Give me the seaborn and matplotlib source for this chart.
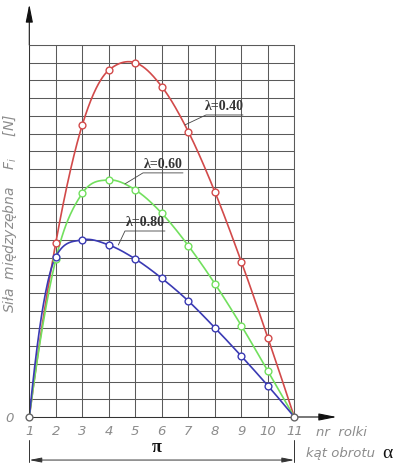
import numpy as np
import pandas as pd
import matplotlib
matplotlib.use("Agg")
import matplotlib.pyplot as plt
import seaborn as sns

# ---- data ----
rolls = [1, 2, 3, 4, 5, 6, 7, 8, 9, 10, 11]
f_040 = [0, 9.84, 16.49, 19.58, 20.0, 18.65, 16.11, 12.72, 8.77, 4.48, 0]
f_060 = [0, 8.90, 12.63, 13.38, 12.82, 11.50, 9.67, 7.53, 5.16, 2.60, 0]
f_080 = [0, 9.05, 10.00, 9.71, 8.92, 7.83, 6.55, 5.04, 3.44, 1.77, 0]
series_labels = ["λ=0.40", "λ=0.60", "λ=0.80"]
xtick_labels = ["1", "2", "3", "4", "5", "6", "7", "8", "9", "10", "11"]

RED = "#d24a4a"
GREEN = "#72e05e"
BLUE = "#3a3ab4"
GRAY_TXT = "#8c8c8c"
GRID = "#5a5a5a"


def smooth_curve(x, y, n=500):
    """Catmull-Rom style cubic through the points, tangents limited to
    avoid overshoot on monotone stretches."""
    x = np.asarray(x, float)
    y = np.asarray(y, float)
    h = np.diff(x)
    d = np.diff(y) / h
    m = np.zeros_like(y)
    for k in range(1, len(x) - 1):
        cr = (y[k + 1] - y[k - 1]) / (x[k + 1] - x[k - 1])
        if d[k - 1] * d[k] > 0:
            lim = 3 * min(abs(d[k - 1]), abs(d[k]))
            cr = np.sign(cr) * min(abs(cr), lim)
        m[k] = cr
    m[0] = 2 * d[0] - m[1]
    m[-1] = 2 * d[-1] - m[-2]
    xs = np.linspace(x[0], x[-1], n)
    i = np.clip(np.searchsorted(x, xs) - 1, 0, len(x) - 2)
    t = (xs - x[i]) / h[i]
    h00 = 2 * t ** 3 - 3 * t ** 2 + 1
    h10 = t ** 3 - 2 * t ** 2 + t
    h01 = -2 * t ** 3 + 3 * t ** 2
    h11 = t ** 3 - t ** 2
    ys = h00 * y[i] + h10 * h[i] * m[i] + h01 * y[i + 1] + h11 * h[i] * m[i + 1]
    return xs, ys


sns.set_theme(style="white")
plt.rcParams["font.family"] = ["DejaVu Sans"]

W, H = 397, 468
fig = plt.figure(figsize=(W / 100, H / 100), dpi=100)
x0p, x1p = 29.3, 294.3
ytop, ybot = 45, 417
ax = fig.add_axes([x0p / W, 1 - ybot / H, (x1p - x0p) / W, (ybot - ytop) / H])
ax.set_xlim(1, 11)
ax.set_ylim(0, 21)

# grid
ax.set_xticks(rolls)
ax.set_xticklabels(xtick_labels)
ax.set_yticks(range(0, 22))
ax.set_yticklabels(["0"] + [""] * 21)
ax.grid(True, color=GRID, linewidth=0.75)
ax.set_axisbelow(True)
for s in ax.spines.values():
    s.set_color(GRID)
    s.set_linewidth(0.75)
ax.spines["left"].set_color("#333333")
ax.spines["bottom"].set_color("#333333")
ax.tick_params(axis="both", length=0, colors=GRAY_TXT, labelsize=9.5)
ax.tick_params(axis="x", pad=6)
ax.tick_params(axis="y", pad=11)
for lab in ax.get_xticklabels() + ax.get_yticklabels():
    lab.set_fontstyle("italic")
    lab.set_color(GRAY_TXT)

# curves
for vals, col in [(f_040, RED), (f_060, GREEN), (f_080, BLUE)]:
    xs, ys = smooth_curve(rolls, vals)
    sns.lineplot(x=xs, y=ys, color=col, linewidth=1.2, ax=ax, sort=False,
                 estimator=None)
for vals, col in [(f_040, RED), (f_060, GREEN), (f_080, BLUE)]:
    sns.scatterplot(x=rolls[1:-1], y=vals[1:-1], marker="o", s=24,
                    facecolor="white", edgecolor=col, linewidth=1.0, ax=ax,
                    zorder=5)
sns.scatterplot(x=[rolls[0], rolls[-1]], y=[0, 0], marker="o", s=24,
                facecolor="white", edgecolor="#666666", linewidth=1.0, ax=ax,
                zorder=6, clip_on=False)

# axis arrows
akw = dict(arrowstyle="-|>,head_length=0.9,head_width=0.18", color="#111111",
           lw=0.8, shrinkA=0, shrinkB=0)
ax.annotate("", xy=(1, 23.3), xytext=(1, 21), arrowprops=akw,
            annotation_clip=False)
ax.annotate("", xy=(12.6, 0), xytext=(11, 0), arrowprops=akw,
            annotation_clip=False)

# dimension line
dkw = dict(arrowstyle="<|-|>,head_length=0.6,head_width=0.12",
           color="#333333", lw=0.7, shrinkA=0, shrinkB=0)
ax.annotate("", xy=(1, -2.43), xytext=(11, -2.43), arrowprops=dkw,
            annotation_clip=False)
ax.plot([1, 1], [-1.3, -2.55], color="#333333", lw=0.7, clip_on=False)
ax.plot([11, 11], [-1.3, -2.55], color="#333333", lw=0.7, clip_on=False)
ax.text(5.8, -1.75, "π", fontsize=13, color="#111111", ha="center",
        va="center", family="Liberation Serif", fontweight="bold")

ax.text(11.8, -0.9, "nr  rolki", fontsize=9.5, fontstyle="italic",
        color=GRAY_TXT, ha="left", va="center")
ax.text(11.45, -2.05, "kąt obrotu", fontsize=9.5, fontstyle="italic",
        color=GRAY_TXT, ha="left", va="center")
ax.text(14.3, -2.05, "α", fontsize=14, color="#111111", ha="left",
        va="center", family="Liberation Serif")

# y label
fig.text(10 / W, 1 - 213 / H, "Siła  międzyzębna    $F_i$     [N]",
         rotation=90, fontsize=10, fontstyle="italic", color=GRAY_TXT,
         ha="center", va="center")

# series annotations
ann = [
    (series_labels[0], (7.668, 17.05), (9.064, 17.05), (6.875, 16.49)),
    (series_labels[1], (5.29, 13.78), (6.80, 13.78), (4.61, 13.16)),
    (series_labels[2], (4.61, 10.50), (6.12, 10.50), (4.36, 9.71)),
]
for txt, p0, p1, p2 in ann:
    ax.plot([p2[0], p0[0], p1[0]], [p2[1], p0[1], p1[1]], color="#444444",
            lw=0.6, zorder=6)
    ax.text((p0[0] + p1[0]) / 2, p0[1] + 0.12, txt, fontsize=10,
            fontweight="bold", family="Liberation Serif", color="#333333",
            ha="center", va="bottom", zorder=7)

fig.savefig("out.png", dpi=100)
